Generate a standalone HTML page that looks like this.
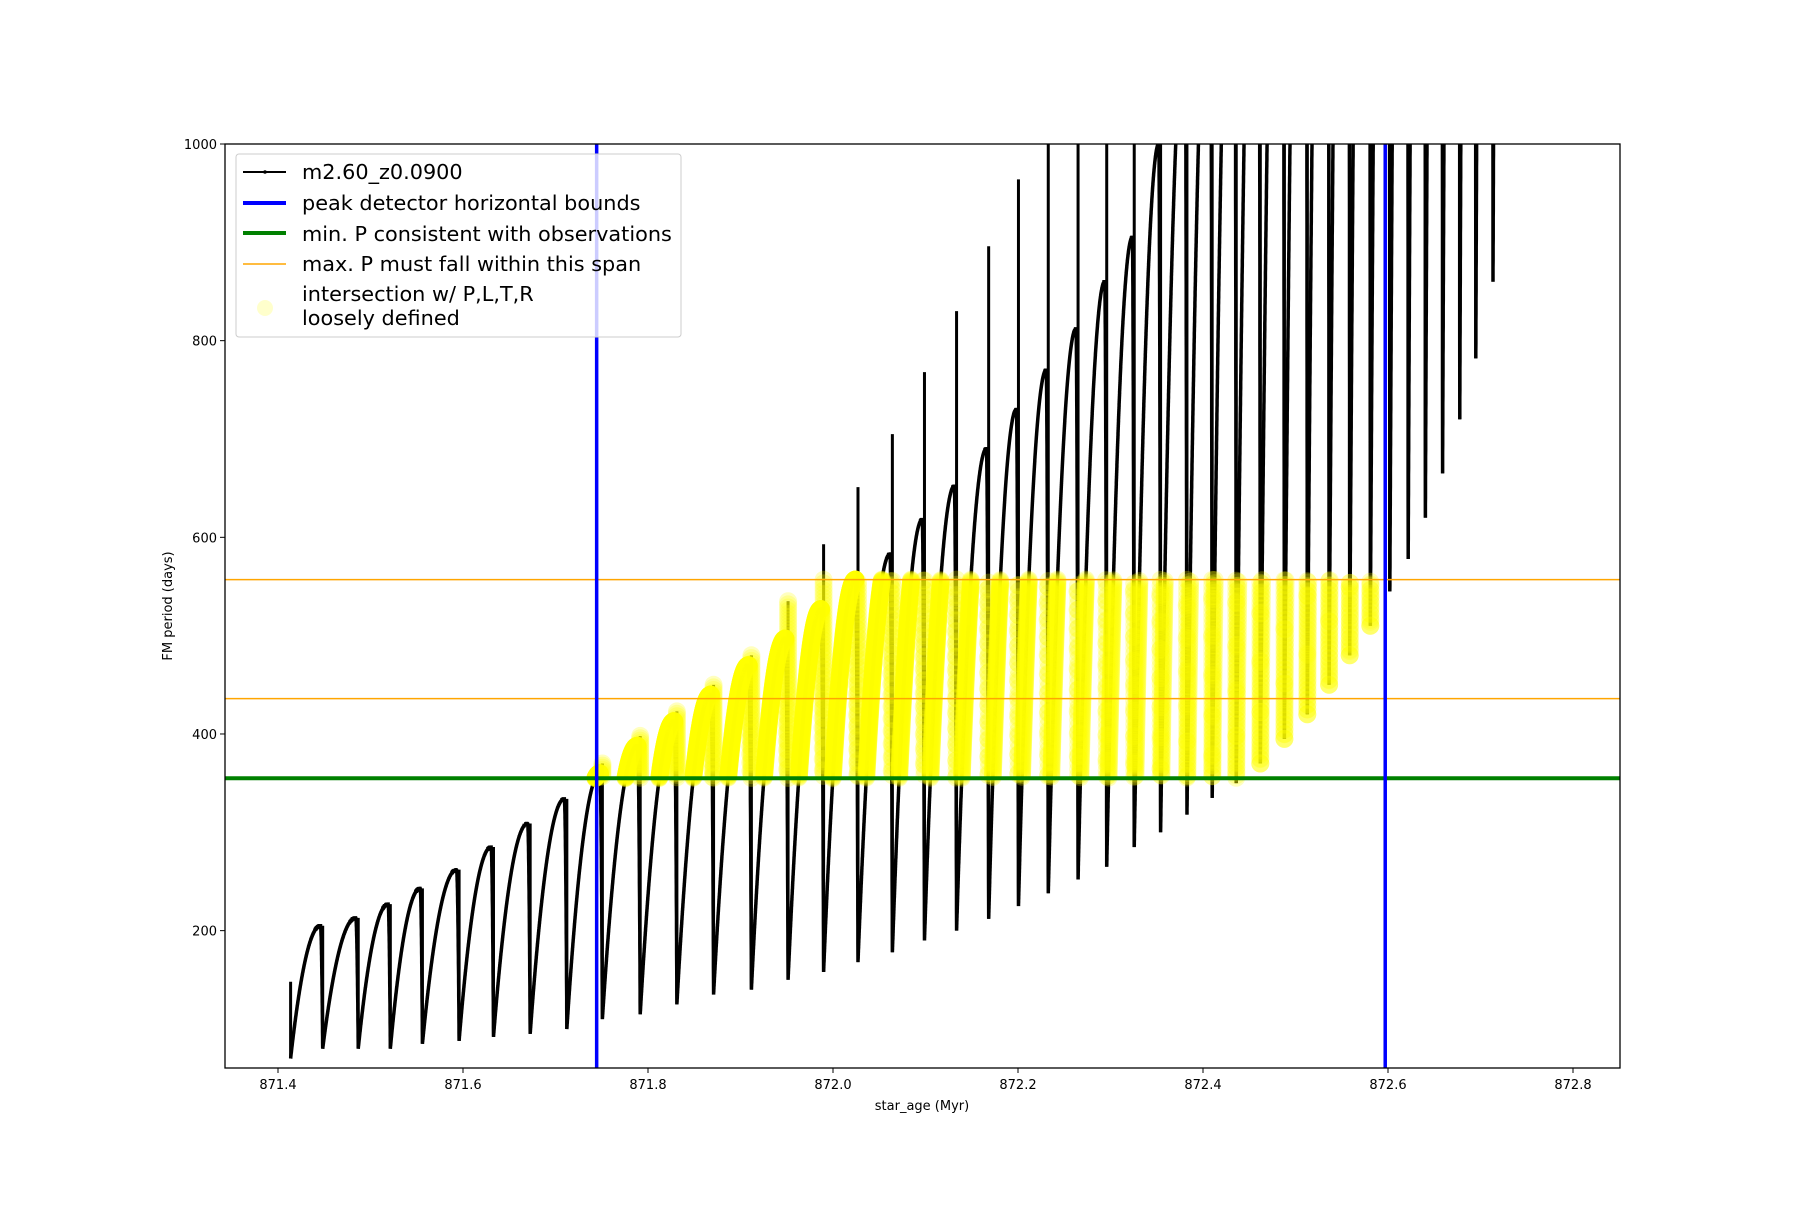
<!DOCTYPE html>
<html><head><meta charset="utf-8"><style>
body{margin:0;background:#fff;}
svg text{font-family:"DejaVu Sans","Liberation Sans",sans-serif;}
</style></head><body>
<svg id="s" width="1800" height="1200" xmlns="http://www.w3.org/2000/svg">
<rect width="1800" height="1200" fill="#fff"/>
<defs><clipPath id="c"><rect x="225" y="144" width="1395" height="924"/></clipPath></defs>
<g id="plot" clip-path="url(#c)"></g>
<rect x="225" y="144" width="1395" height="924" fill="none" stroke="#000" stroke-width="1.3"/>
<g id="ticks" font-size="13" fill="#000"></g>
<text x="922" y="1110" font-size="13" text-anchor="middle">star_age (Myr)</text>
<text transform="translate(172,606) rotate(-90)" font-size="13" text-anchor="middle">FM period (days)</text>
<g>
<rect x="236" y="154" width="445" height="183" rx="3" fill="#fff" fill-opacity="0.8" stroke="#ccc" stroke-width="1"/>
<line x1="243" y1="172" x2="286" y2="172" stroke="#000" stroke-width="2"/><circle cx="265" cy="172" r="1.8" fill="#000"/>
<line x1="243" y1="203" x2="286" y2="203" stroke="#00f" stroke-width="4"/>
<line x1="243" y1="233" x2="286" y2="233" stroke="#008000" stroke-width="4"/>
<line x1="243" y1="264" x2="286" y2="264" stroke="orange" stroke-width="1.5"/>
<circle cx="265" cy="308" r="8" fill="#ffff00" fill-opacity="0.2"/>
<g font-size="20.8" fill="#000">
<text x="302" y="179">m2.60_z0.0900</text>
<text x="302" y="210">peak detector horizontal bounds</text>
<text x="302" y="241">min. P consistent with observations</text>
<text x="302" y="271">max. P must fall within this span</text>
<text x="302" y="301">intersection w/ P,L,T,R</text>
<text x="302" y="325">loosely defined</text>
</g></g>
</svg>
<script>
var NS="http://www.w3.org/2000/svg";
function X(v){return 1388+(v-872.6)*925;}
function Y(p){return 144+(1000-p)*0.9833;}
var plot=document.getElementById('plot'),ticks=document.getElementById('ticks');
function el(n,a,par){var e=document.createElementNS(NS,n);for(var k in a)e.setAttribute(k,a[k]);(par||plot).appendChild(e);return e;}
var dx=[279,310,338,366,398,428,460,492,523,556,588,620,653,685,716,746,776,804,832,860,886,912,938,963,987,1010,1033,1055,1076,1097,1118,1138,1157,1175,1193,1210,1226,1241,1256,1271,1285,1300,1314];
var drops=dx.map(function(x){return 871.4+(x-240)/807;});
var peaks=[205,213,227,243,262,285,309,334,360,388,413,440,470,497,527,557,583,618,652,690,730,770,812,860,905,1000];
while(peaks.length<43)peaks.push(1000+(peaks.length-25)*120);
var mins=[70,80,80,80,85,88,92,95,100,110,115,125,135,140,150,158,168,178,190,200,212,225,238,252,265,285,300,318,335,350,370,395,420,450,480,510,545,578,620,665,720,782,860,960];
var start=871.4+(251-240)/807;
var pts=[],yel=[];
var spikes=[[start,70,148]];
for(var i=0;i<43;i++){
  var a=(i==0?start:drops[i-1]),b=drops[i],m=mins[i],pk=peaks[i],nm=mins[i+1];
  var N=600;
  var last=(i==42);
  for(var j=0;j<=N;j++){
    var t=j/N,age=a+(b-a)*t,p;
    if(last){p=m+(pk-m)*(1-Math.pow(1-t,2));}
    else if(t<0.93){var u=t/0.93;p=m+(pk-m)*(1-Math.pow(1-u,2));}
    else{var u=(t-0.93)/0.07;p=pk-(pk-nm)*u*u;}
    pts.push([age,p]);
    if(p>=355&&p<=557&&age>=871.74&&age<=872.6)yel.push([age,p]);
  }
  if(!last){
    var sp=pk+Math.max(0,i-12)*28+(i<8?0:10);
    spikes.push([b,nm,sp]);
    for(var k=0;k<=120;k++){var p=nm+(Math.min(sp,1000)-nm)*k/120;if(p>=355&&p<=557&&b>=871.74&&b<=872.6)yel.push([b,p]);}
  }
}
var d=pts.map(function(q,i){return (i?'L':'M')+X(q[0]).toFixed(1)+' '+Y(q[1]).toFixed(1);}).join('');
el('path',{d:d,fill:'none',stroke:'#000','stroke-width':3.5});
spikes.forEach(function(s){el('line',{x1:X(s[0]),x2:X(s[0]),y1:Y(s[1]),y2:Y(s[2]),stroke:'#000','stroke-width':3});});
var yg=el('g',{fill:'#ffff00','fill-opacity':0.25});
yel.forEach(function(q){el('circle',{cx:X(q[0]).toFixed(1),cy:Y(q[1]).toFixed(1),r:9},yg);});
el('line',{x1:225,x2:1620,y1:Y(355),y2:Y(355),stroke:'#008000','stroke-width':4});
el('line',{x1:225,x2:1620,y1:Y(557),y2:Y(557),stroke:'orange','stroke-width':1.5});
el('line',{x1:225,x2:1620,y1:Y(436),y2:Y(436),stroke:'orange','stroke-width':1.5});
el('line',{x1:X(871.7445),x2:X(871.7445),y1:144,y2:1068,stroke:'#00f','stroke-width':3.5});
el('line',{x1:X(872.597),x2:X(872.597),y1:144,y2:1068,stroke:'#00f','stroke-width':3.5});
for(var v=871.4;v<872.81;v+=0.2){var x=X(v);el('line',{x1:x,x2:x,y1:1068,y2:1073,stroke:'#000','stroke-width':1},ticks);var t=el('text',{x:x,y:1089,'text-anchor':'middle'},ticks);t.textContent=v.toFixed(1);}
[200,400,600,800,1000].forEach(function(p){var y=Y(p);el('line',{x1:220,x2:225,y1:y,y2:y,stroke:'#000','stroke-width':1},ticks);var t=el('text',{x:217,y:y+5,'text-anchor':'end'},ticks);t.textContent=p;});
</script>
</body></html>
